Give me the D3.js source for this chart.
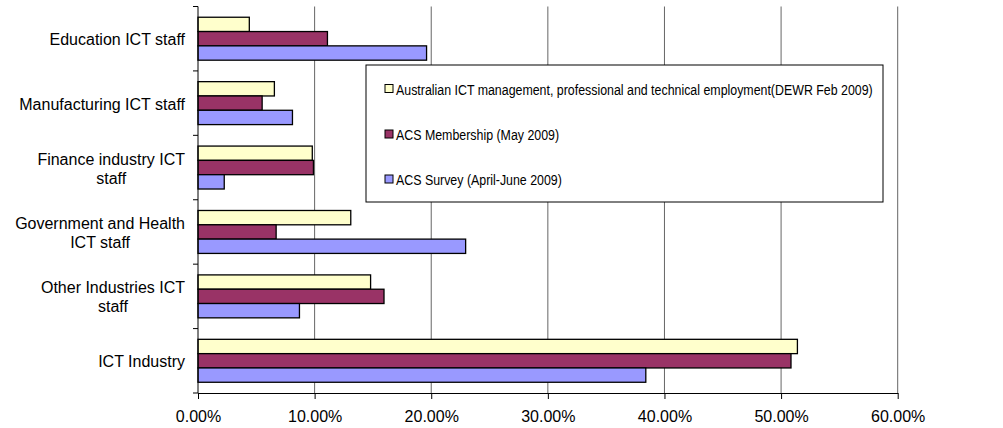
<!DOCTYPE html>
<html>
<head>
<meta charset="utf-8">
<script src="https://cdn.jsdelivr.net/npm/d3@7"></script>
<style>
  body { margin: 0; background: #fff; }
  svg { display: block; font-family: "Liberation Sans", Arial, sans-serif; }
</style>
</head>
<body>
<svg id="chart" width="1003" height="428"></svg>
<script>
// categories, top to bottom (lines split with |)
const categories = [
    "Education ICT staff",
    "Manufacturing ICT staff",
    "Finance industry ICT|staff",
    "Government and Health|ICT staff",
    "Other Industries ICT|staff",
    "ICT Industry"
];

const seriesNames = [
    "Australian ICT management, professional and technical employment(DEWR Feb 2009)",
    "ACS Membership (May 2009)",
    "ACS Survey (April-June 2009)"
];
const seriesColors = ["#FFFFCC", "#993366", "#9999FF"];

// values in fraction, same order as categories
const dewrValues = [0.044, 0.0655, 0.098, 0.131, 0.148, 0.514];
const membershipValues = [0.111, 0.055, 0.099, 0.067, 0.1595, 0.5085];
const surveyValues = [0.196, 0.081, 0.0225, 0.2295, 0.087, 0.384];

const xTicks = [0, 0.1, 0.2, 0.3, 0.4, 0.5, 0.6];

const allSeries = [dewrValues, membershipValues, surveyValues];

const svg = d3.select('#chart');
const plotLeft = 198, plotRight = 897.7, plotTop = 6.5, plotBottom = 393;

const x = d3.scaleLinear().domain([0, 0.6]).range([plotLeft, plotRight]);
const y = d3.scaleBand().domain(categories).range([plotTop, plotBottom])
    .paddingInner(1 / 3).paddingOuter(1 / 6);
const y1 = d3.scaleBand().domain(d3.range(3)).range([0, y.bandwidth()]);

// gridlines
svg.append('g')
    .selectAll('line')
    .data(xTicks.slice(1))
    .enter().append('line')
    .attr('x1', d => x(d)).attr('x2', d => x(d))
    .attr('y1', plotTop).attr('y2', plotBottom)
    .style('stroke', '#666')
    .style('stroke-width', 1);

// bars
const groups = svg.append('g')
    .selectAll('g')
    .data(categories)
    .enter().append('g')
    .attr('transform', d => `translate(0,${y(d)})`);

groups.selectAll('rect')
    .data((d, i) => allSeries.map((s, k) => ({ k: k, v: s[i] })))
    .enter().append('rect')
    .attr('x', x(0))
    .attr('y', d => y1(d.k))
    .attr('width', d => x(d.v) - x(0))
    .attr('height', y1.bandwidth())
    .style('fill', d => seriesColors[d.k])
    .style('stroke', '#000')
    .style('stroke-width', 1.3);

// x axis
const xAxis = d3.axisBottom(x)
    .tickValues(xTicks)
    .tickFormat(d3.format('.2%'))
    .tickSizeInner(6)
    .tickSizeOuter(0)
    .tickPadding(12);
const gx = svg.append('g')
    .attr('transform', `translate(0,${plotBottom})`)
    .call(xAxis);
gx.select('.domain').style('stroke', '#000');
gx.selectAll('.tick line').style('stroke', '#000');
gx.selectAll('text')
    .style('font-size', '16px')
    .style('font-family', '"Liberation Sans", Arial, sans-serif')
    .style('fill', '#000');

// y axis line + ticks at category boundaries
const yBounds = categories.map(c => y(c) - y.step() * y.paddingInner() / 2);
yBounds.push(plotBottom);
svg.append('line')
    .attr('x1', plotLeft).attr('x2', plotLeft)
    .attr('y1', plotTop).attr('y2', plotBottom)
    .style('stroke', '#000');
svg.append('g')
    .selectAll('line')
    .data(yBounds)
    .enter().append('line')
    .attr('x1', plotLeft - 5).attr('x2', plotLeft)
    .attr('y1', d => d).attr('y2', d => d)
    .style('stroke', '#000');

// category labels
const labels = svg.append('g')
    .selectAll('text')
    .data(categories)
    .enter().append('text')
    .style('font-size', '16px')
    .style('fill', '#000')
    .attr('text-anchor', 'middle');

labels.each(function(d) {
    const lines = d.split('|');
    const t = d3.select(this);
    const cy = y(d) + y.bandwidth() / 2;
    const lh = 19;
    const firstBase = cy + 6.5 - (lines.length - 1) * lh / 2;
    lines.forEach((ln, i) => {
        t.append('tspan').attr('y', firstBase + i * lh).text(ln);
    });
    let maxW = 0;
    t.selectAll('tspan').each(function() {
        maxW = Math.max(maxW, this.getComputedTextLength());
    });
    t.selectAll('tspan').attr('x', 185 - maxW / 2);
});

// legend
const lg = svg.append('g');
lg.append('rect')
    .attr('x', 366).attr('y', 65)
    .attr('width', 517).attr('height', 137)
    .style('fill', '#fff')
    .style('stroke', '#000')
    .style('stroke-width', 1);

const legendRows = [89, 134.5, 179.5];
seriesNames.forEach((name, k) => {
    lg.append('rect')
        .attr('x', 385).attr('y', legendRows[k] - 4.5)
        .attr('width', 8).attr('height', 8)
        .style('fill', seriesColors[k])
        .style('stroke', '#000')
        .style('stroke-width', 1);
    // the source font is narrow, so squeeze horizontally
    lg.append('text')
        .attr('transform', `translate(396,${legendRows[k] + 5.5}) scale(0.8,1)`)
        .style('font-size', '15.5px')
        .style('fill', '#000')
        .text(name);
});
</script>
</body>
</html>
